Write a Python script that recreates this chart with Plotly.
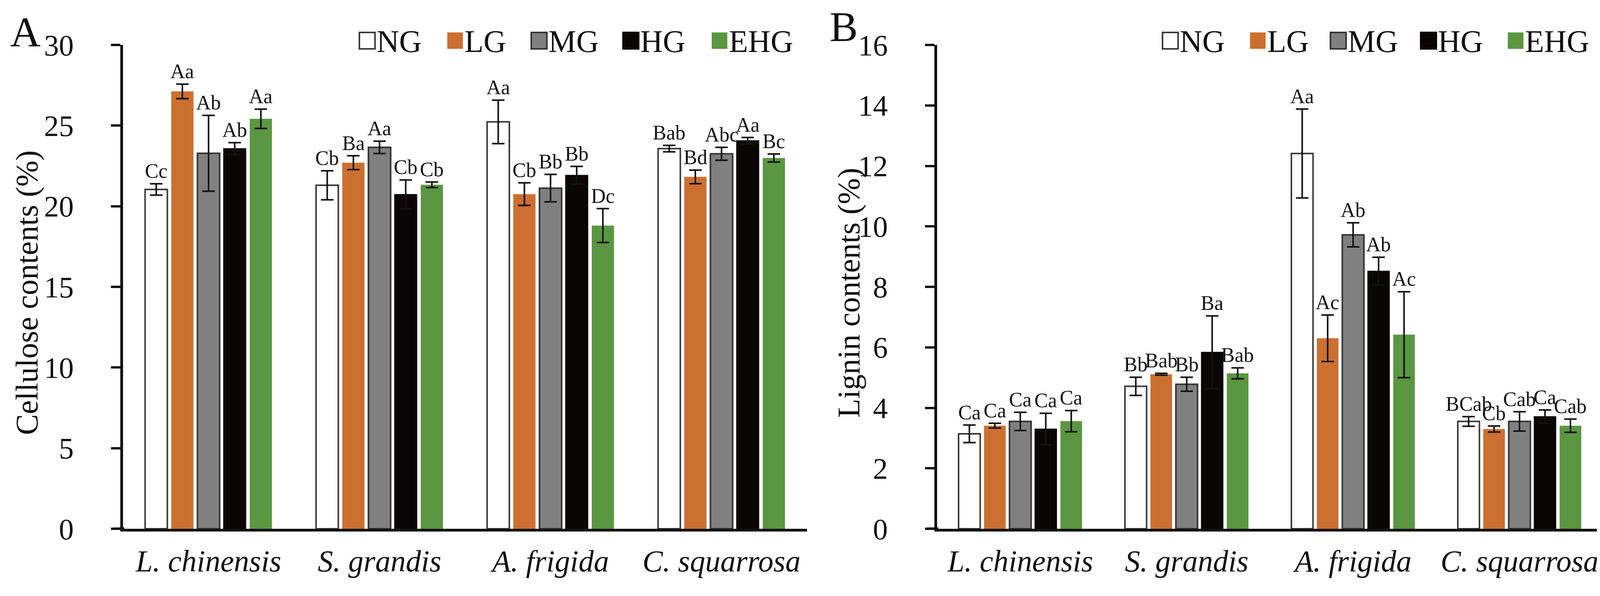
import plotly.graph_objects as go

# the page body keeps its default 8px margin, so the figure is drawn 8px in
# from the top-left corner of the 4136x1525 window; keep it a bit short of
# the window so no scrollbar appears
OFF = 8
W, H = 4136 - 2 * OFF, 1525 - 2 * OFF - 16

species = ["L. chinensis", "S. grandis", "A. frigida", "C. squarrosa"]
groups = ["NG", "LG", "MG", "HG", "EHG"]

# cellulose contents (%), panel A
cell_NG = [21.04, 21.30, 25.23, 23.57]
cell_LG = [27.12, 22.70, 20.75, 21.82]
cell_MG = [23.28, 23.65, 21.12, 23.25]
cell_HG = [23.57, 20.73, 21.92, 24.06]
cell_EHG = [25.42, 21.33, 18.80, 22.99]
cell_NG_err = [0.35, 0.90, 1.35, 0.20]
cell_LG_err = [0.45, 0.43, 0.70, 0.42]
cell_MG_err = [2.35, 0.38, 0.85, 0.40]
cell_HG_err = [0.37, 0.90, 0.55, 0.20]
cell_EHG_err = [0.60, 0.17, 1.05, 0.25]
cell_letters = [
    ["Cc", "Cb", "Aa", "Bab"],
    ["Aa", "Ba", "Cb", "Bd"],
    ["Ab", "Aa", "Bb", "Abc"],
    ["Ab", "Cb", "Bb", "Aa"],
    ["Aa", "Cb", "Dc", "Bc"],
]

# lignin contents (%), panel B
lig_NG = [3.14, 4.71, 12.41, 3.55]
lig_LG = [3.41, 5.11, 6.30, 3.30]
lig_MG = [3.55, 4.78, 9.72, 3.55]
lig_HG = [3.30, 5.84, 8.52, 3.71]
lig_EHG = [3.56, 5.14, 6.42, 3.41]
lig_NG_err = [0.29, 0.30, 1.47, 0.16]
lig_LG_err = [0.08, 0.03, 0.77, 0.10]
lig_MG_err = [0.30, 0.23, 0.40, 0.32]
lig_HG_err = [0.52, 1.20, 0.46, 0.22]
lig_EHG_err = [0.35, 0.18, 1.42, 0.22]
lig_letters = [
    ["Ca", "Bb", "Aa", "BCab"],
    ["Ca", "Bab", "Ac", "Cb"],
    ["Ca", "Bb", "Ab", "Cab"],
    ["Ca", "Ba", "Ab", "Ca"],
    ["Ca", "Bab", "Ac", "Cab"],
]

fills = ["#ffffff", "#cc7031", "#808080", "#0a0605", "#5b9641"]
edges = ["#3a3a3a", "#cc7031", "#333333", "#0a0605", "#5b9641"]
edge_w = [4, 0, 4, 2, 0]

SERIF = "Liberation Serif"
INK = "#111111"
BARGAP = 0.235


def px(x):
    return (x - OFF) / W


def py(y):
    return 1 - (y - OFF) / H


fig = go.Figure()

panels = [
    ("x", "y", [cell_NG, cell_LG, cell_MG, cell_HG, cell_EHG],
     [cell_NG_err, cell_LG_err, cell_MG_err, cell_HG_err, cell_EHG_err], cell_letters),
    ("x2", "y2", [lig_NG, lig_LG, lig_MG, lig_HG, lig_EHG],
     [lig_NG_err, lig_LG_err, lig_MG_err, lig_HG_err, lig_EHG_err], lig_letters),
]

annotations = []
for xa, ya, vals, errs, letters in panels:
    for j, g in enumerate(groups):
        fig.add_trace(go.Bar(
            x=species, y=vals[j], name=g, xaxis=xa, yaxis=ya,
            marker=dict(color=fills[j], line=dict(color=edges[j], width=edge_w[j])),
            error_y=dict(type="data", array=errs[j], color=INK, thickness=4, width=16),
            showlegend=False,
        ))
        slot = (1 - BARGAP) / len(groups)
        for i in range(len(species)):
            annotations.append(dict(
                x=i + (j - 2) * slot, y=vals[j][i] + errs[j][i],
                xref=xa, yref=ya, text=letters[j][i], showarrow=False,
                xanchor="center", yanchor="bottom", yshift=2,
                font=dict(family=SERIF, size=52, color=INK),
            ))

# axis titles and panel letters
annotations += [
    dict(x=px(70), y=py(749), xref="paper", yref="paper", text="Cellulose contents (%)",
         textangle=-90, xanchor="center", yanchor="middle", showarrow=False,
         font=dict(family=SERIF, size=80, color=INK)),
    dict(x=px(2174), y=py(749), xref="paper", yref="paper", text="Lignin contents (%)",
         textangle=-90, xanchor="center", yanchor="middle", showarrow=False,
         font=dict(family=SERIF, size=80, color=INK)),
    dict(x=px(24), y=py(82), xref="paper", yref="paper", text="A", xanchor="left",
         yanchor="middle", showarrow=False, font=dict(family=SERIF, size=108, color=INK)),
    dict(x=px(2122), y=py(68), xref="paper", yref="paper", text="B", xanchor="left",
         yanchor="middle", showarrow=False, font=dict(family=SERIF, size=108, color=INK)),
]

# hand-made legends (one per panel)
shapes = []
legend_left = [[920, 1145, 1360, 1595, 1822], [2976, 3200, 3406, 3637, 3860]]
for lefts in legend_left:
    for j, g in enumerate(groups):
        x0 = lefts[j]
        shapes.append(dict(type="rect", xref="paper", yref="paper",
                           x0=px(x0), x1=px(x0 + 40), y0=py(125), y1=py(83),
                           fillcolor=fills[j],
                           line=dict(color=edges[j], width=4 if edge_w[j] else 0)))
        annotations.append(dict(x=px(x0 + 42), y=py(106), xref="paper", yref="paper",
                                text=g, xanchor="left", yanchor="middle", showarrow=False,
                                font=dict(family=SERIF, size=80, color=INK)))

# baselines extend left to the tick ends
shapes.append(dict(type="line", xref="paper", yref="y", x0=px(290), x1=px(318), y0=0, y1=0,
                   line=dict(color=INK, width=7)))
shapes.append(dict(type="line", xref="paper", yref="y2", x0=px(2373), x1=px(2402), y0=0, y1=0,
                   line=dict(color=INK, width=7)))

ydom = [py(1353), py(115)]
xaxis_common = dict(
    type="category", showline=True, linecolor=INK, linewidth=7, ticks="",
    showgrid=False, zeroline=False, range=[-0.5, 3.5], automargin=False,
    tickfont=dict(family=SERIF, size=78, color=INK, style="italic"),
    ticklabelstandoff=8,
)
yaxis_common = dict(
    showline=True, linecolor=INK, linewidth=7, ticks="outside", ticklen=24,
    tickwidth=6, tickcolor=INK, showgrid=False, zeroline=False, automargin=False,
    tickfont=dict(family=SERIF, size=76, color=INK), ticklabelstandoff=80,
)

fig.update_layout(
    template="none",
    width=W, height=H,
    margin=dict(l=0, r=0, t=0, b=0, autoexpand=False),
    paper_bgcolor="white", plot_bgcolor="white",
    barmode="group", bargap=BARGAP, bargroupgap=0.15,
    xaxis=dict(domain=[px(315), px(2066)], anchor="y", **xaxis_common),
    xaxis2=dict(domain=[px(2399), px(4103)], anchor="y2", **xaxis_common),
    yaxis=dict(domain=ydom, anchor="x", range=[0, 30], dtick=5, **yaxis_common),
    yaxis2=dict(domain=ydom, anchor="x2", range=[0, 16], dtick=2, **yaxis_common),
    annotations=annotations,
    shapes=shapes,
    showlegend=False,
)

fig.write_html("out.html")
